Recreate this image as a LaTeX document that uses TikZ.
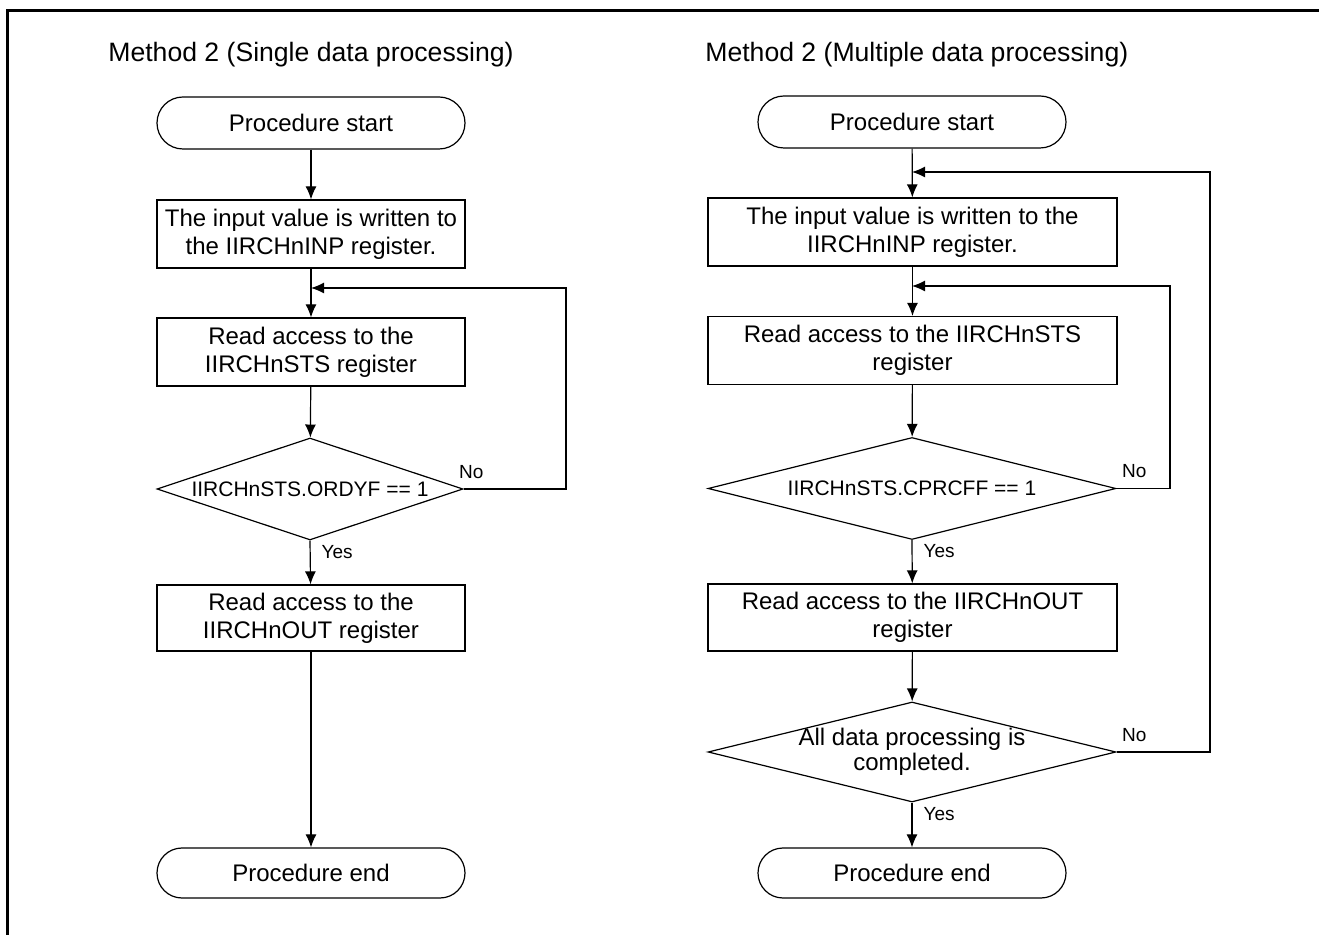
\documentclass[tikz,border=0pt]{standalone}
\usepackage{fontspec}
\setmainfont{Liberation Sans}
\usetikzlibrary{shapes.geometric,arrows.meta}

\begin{document}
\begin{tikzpicture}[x=0.5pt,y=-0.5pt,
    every node/.style={inner sep=0pt},
    txt/.style={font=\fontsize{12}{14}\selectfont, align=center},
    terminal/.style={txt, draw, line width=0.6pt, minimum width=154pt, minimum height=26pt, rounded corners=13pt},
    box/.style={txt, draw, line width=0.6pt, minimum width=154pt, minimum height=34pt},
    widebox/.style={box, minimum width=204.5pt},
    decision/.style={diamond, draw, line width=0.6pt, minimum width=153pt, minimum height=51pt},
    cond/.style={font=\fontsize{10.5}{12.5}\selectfont, align=center},
    yesno/.style={font=\fontsize{9.5}{11}\selectfont},
    yes/.style={yesno, anchor=north west, xshift=5.5pt, yshift=-2pt},
    no/.style={yesno, anchor=south west, xshift=2.5pt, yshift=5pt},
    title/.style={font=\fontsize{13.3}{16}\selectfont, anchor=west},
    arr/.style={-{Latex[length=6.5pt,width=5.5pt]}, line width=0.6pt}]
    \useasboundingbox (0,0) rectangle (1319,935);

    % Frame
    \draw[line width=1.5pt] (7,935) -- (7,11) -- (1319,11);

    % Titles
    \node[title] (ltitle) at (108,55) {Method 2 (Single data processing)};
    \node[title] (rtitle) at (705,55) {Method 2 (Multiple data processing)};

    % Left flow: single data
    \node[terminal] (ls) at (311,123) {Procedure start};
    \node[box] (lb1) at (311,234) {The input value is written to\\the IIRCHnINP register.};
    \node[box] (lb2) at (311,352) {Read access to the\\IIRCHnSTS register};
    \node[decision, label={[cond]center:IIRCHnSTS.ORDYF == 1}] (ld) at (310,489) {};
    \node[box, minimum height=33pt] (lb3) at (311,618) {Read access to the\\IIRCHnOUT register};
    \node[terminal, minimum height=25pt, rounded corners=12.5pt] (le) at (311,873) {Procedure end};

    \coordinate (lj) at (311,288);
    \coordinate (lr) at (566,288);

    \draw[arr] (ls) -- (lb1);
    \draw[arr] (lb1) -- (lb2);
    \draw[arr] (lb2) -- (ld);
    \draw[arr] (ld.south) node[yes] {Yes} -- (lb3);
    \draw[arr] (ld.east) node[no, xshift=-5pt] {No} -| (lr) -- (lj);
    \draw[arr] (lb3) -- (le);

    % Right flow: multiple data
    \node[terminal] (rs) at (912,122) {Procedure start};
    \node[widebox] (rb1) at (912.5,232) {The input value is written to the\\IIRCHnINP register.};
    \node[widebox] (rb2) at (912.5,350.5) {Read access to the IIRCHnSTS\\register};
    \node[decision, minimum width=204pt, label={[cond]center:IIRCHnSTS.CPRCFF == 1}] (rd1) at (912,488.5) {};
    \node[widebox, minimum height=33.5pt] (rb3) at (912.5,617.5) {Read access to the IIRCHnOUT\\register};
    \node[decision, minimum width=204pt, minimum height=50pt,
          label={[txt, font=\fontsize{12}{12.5}\selectfont]center:All data processing is\\completed.}] (rd2) at (912,752) {};
    \node[terminal, minimum height=25pt, rounded corners=12.5pt] (re) at (912,873) {Procedure end};

    \coordinate (rj1) at (912,172);
    \coordinate (rr1) at (1210,172);
    \coordinate (rj2) at (912,286);
    \coordinate (rr2) at (1170,286);

    \draw[arr] (rs) -- (rb1);
    \draw[arr] (rb1) -- (rb2);
    \draw[arr] (rb2) -- (rd1);
    \draw[arr] (rd1.south) node[yes] {Yes} -- (rb3);
    \draw[arr] (rd1.east) node[no] {No} -| (rr2) -- (rj2);
    \draw[arr] (rb3) -- (rd2);
    \draw[arr] (rd2.south) node[yes] {Yes} -- (re);
    \draw[arr] (rd2.east) node[no] {No} -| (rr1) -- (rj1);
\end{tikzpicture}
\end{document}
